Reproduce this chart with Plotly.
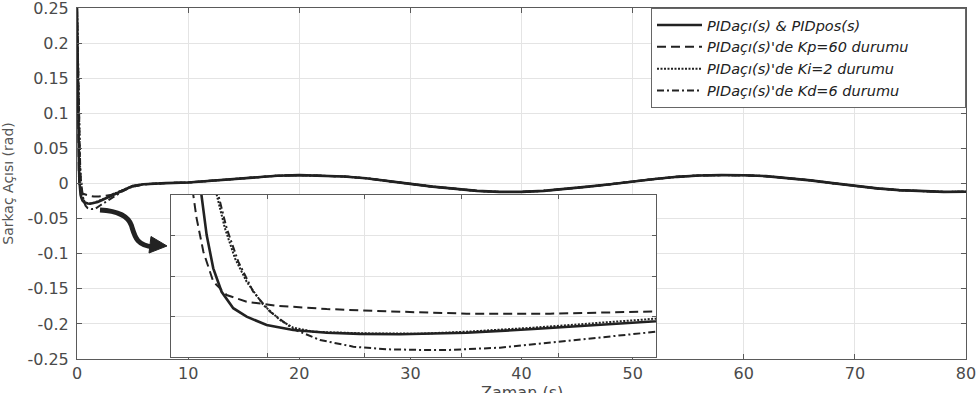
import plotly.graph_objects as go

# ---------------- data ----------------
# early transient (0 .. 2.5 s) for each case
t_pid = [0, 0.05, 0.10, 0.13, 0.158, 0.184, 0.218, 0.261, 0.321, 0.390, 0.493, 0.630, 0.803, 0.974, 1.180, 1.524, 1.868, 2.211, 2.495, 3.0, 3.5, 4.0, 4.5, 5.0, 6.0, 7.0]
y_pid = [0.25, 0.16, 0.09, 0.06, 0.040, 0.0202, 0.0038, -0.0078, -0.0159, -0.0201, -0.0242, -0.0267, -0.0280, -0.0286, -0.0288, -0.0280, -0.0262, -0.0238, -0.0217, -0.0185, -0.0140, -0.0105, -0.0070, -0.0035, -0.0010, 0.0]

t_kp = [0, 0.04, 0.08, 0.115, 0.132, 0.167, 0.218, 0.287, 0.390, 0.545, 0.803, 1.060, 1.284, 1.524, 1.954, 2.298, 2.495, 3.0, 3.5, 4.0, 4.5, 5.0, 6.0, 7.0]
y_kp = [0.25, 0.16, 0.085, 0.040, 0.0286, 0.0120, -0.0028, -0.0094, -0.0127, -0.0147, -0.0163, -0.0173, -0.0179, -0.0186, -0.0186, -0.0181, -0.0178, -0.0165, -0.0135, -0.0105, -0.0075, -0.0045, -0.0013, 0.0]

t_ki = [0, 0.08, 0.16, 0.20, 0.236, 0.278, 0.330, 0.390, 0.476, 0.562, 0.630, 0.734, 0.974, 1.284, 1.524, 1.868, 2.211, 2.495, 3.0, 3.5, 4.0, 4.5, 5.0, 6.0, 7.0]
y_ki = [0.25, 0.17, 0.09, 0.06, 0.040, 0.0236, 0.0087, -0.0028, -0.0143, -0.0217, -0.0255, -0.0275, -0.0283, -0.0285, -0.0275, -0.0255, -0.0231, -0.0209, -0.0180, -0.0135, -0.0100, -0.0068, -0.0034, -0.0010, 0.0]

t_kd = [0, 0.08, 0.16, 0.21, 0.244, 0.287, 0.347, 0.424, 0.510, 0.630, 0.768, 0.940, 1.112, 1.284, 1.438, 1.696, 2.005, 2.298, 2.495, 3.0, 3.5, 4.0, 4.5, 5.0, 6.0, 7.0]
y_kd = [0.25, 0.17, 0.095, 0.06, 0.040, 0.0236, 0.0071, -0.0078, -0.0176, -0.0262, -0.0316, -0.0349, -0.0362, -0.0365, -0.0365, -0.0354, -0.0321, -0.0291, -0.0267, -0.0215, -0.0165, -0.0120, -0.0080, -0.0045, -0.0012, 0.0]

# slow oscillation shared by all cases (8 .. 80 s)
t_late = [8, 10, 12, 14, 16, 18, 20, 22, 24, 26, 28, 30, 32, 34, 36, 38, 40, 42, 44, 46, 48, 50, 52, 54, 56, 58, 60, 62, 64, 66, 68, 70, 72, 74, 76, 78, 80]
y_late = [0.0006, 0.0015, 0.0040, 0.0065, 0.0090, 0.0110, 0.0120, 0.0115, 0.0100, 0.0075, 0.0040, -0.0005, -0.0045, -0.0080, -0.0105, -0.0120, -0.0120, -0.0105, -0.0080, -0.0045, -0.0010, 0.0030, 0.0065, 0.0095, 0.0115, 0.0120, 0.0118, 0.0105, 0.0080, 0.0045, 0.0005, -0.0035, -0.0070, -0.0095, -0.0112, -0.0120, -0.0118]

names = ["PIDaçı(s) & PIDpos(s)", "PIDaçı(s)'de Kp=60 durumu",
         "PIDaçı(s)'de Ki=2 durumu", "PIDaçı(s)'de Kd=6 durumu"]

x_ticks = [0, 10, 20, 30, 40, 50, 60, 70, 80]
y_ticks = [-0.25, -0.2, -0.15, -0.1, -0.05, 0, 0.05, 0.1, 0.15, 0.2, 0.25]
y_ticktext = ["-0.25", "-0.2", "-0.15", "-0.1", "-0.05", "0", "0.05", "0.1", "0.15", "0.2", "0.25"]
x_title = "Zaman (s)"
y_title = "Sarkaç Açısı (rad)"

# ---------------- styling ----------------
INK = "#222222"
styles = [dict(width=2.6, dash="solid"),
          dict(width=2.0, dash="9px,5px"),
          dict(width=2.0, dash="2px,1.5px"),
          dict(width=2.0, dash="7px,3px,2px,3px")]
series = [(t_pid, y_pid), (t_kp, y_kp), (t_ki, y_ki), (t_kd, y_kd)]
PAD = "\u00a0" * 11  # widen the legend box like the reference

fig = go.Figure()
for (tt, yy), nm, st in zip(series, names, styles):
    fig.add_trace(go.Scatter(x=tt + t_late, y=yy + y_late, mode="lines", name=nm + PAD,
                             line=dict(color=INK, width=st["width"], dash=st["dash"]),
                             xaxis="x", yaxis="y"))
for (tt, yy), nm, st in zip(series, names, styles):
    fig.add_trace(go.Scatter(x=tt, y=yy, mode="lines", name=nm, showlegend=False,
                             line=dict(color=INK, width=st["width"], dash=st["dash"]),
                             xaxis="x2", yaxis="y2"))

FONT = "DejaVu Sans"
GRID = "#e4e4e4"
AX = "#5a5a5a"
TXT = "#4a4a4a"

INSET_X = [0, 2.5]
INSET_Y = [-0.04, 0.04]

fig.update_layout(
    width=980, height=393,
    margin=dict(l=77, r=14, t=8, b=34),
    paper_bgcolor="white", plot_bgcolor="white",
    font=dict(family=FONT, size=16, color=TXT),
    xaxis=dict(domain=[0, 1], range=[0, 80], tickvals=x_ticks, showgrid=True, gridcolor=GRID,
               zeroline=False, showline=True, linecolor=AX, linewidth=1, mirror="ticks",
               ticks="inside", ticklen=5, tickcolor=AX, ticklabelstandoff=0,
               ticklabeloverflow="allow", automargin=False,
               tickfont=dict(family=FONT, size=16, color=TXT)),
    yaxis=dict(domain=[0, 1], range=[-0.25, 0.25], tickvals=y_ticks, ticktext=y_ticktext,
               showgrid=True, gridcolor=GRID, zeroline=False, showline=True, linecolor=AX,
               linewidth=1, mirror="ticks", ticks="inside", ticklen=5, tickcolor=AX,
               ticklabelstandoff=4, ticklabeloverflow="allow", automargin=False,
               tickfont=dict(family=FONT, size=16, color=TXT),
               title=dict(text=y_title, font=dict(family=FONT, size=14, color="#555"), standoff=11)),
    xaxis2=dict(domain=[0.1057, 0.6513], anchor="y2", range=INSET_X, dtick=0.5, showgrid=True,
                gridcolor=GRID, zeroline=False, showline=True, linecolor=AX, mirror="ticks",
                ticks="inside", ticklen=4, tickcolor=AX, showticklabels=False, automargin=False),
    yaxis2=dict(domain=[0.0057, 0.4672], anchor="x2", range=INSET_Y, dtick=0.02, showgrid=True,
                gridcolor=GRID, zeroline=False, showline=True, linecolor=AX, mirror="ticks",
                ticks="inside", ticklen=4, tickcolor=AX, showticklabels=False, automargin=False),
    legend=dict(x=1, y=1, xanchor="right", yanchor="top", bgcolor="white",
                bordercolor="#666", borderwidth=1, itemwidth=45,
                font=dict(family=FONT, size=14.5, color=INK, style="italic")),
    showlegend=True,
    annotations=[dict(text=x_title, xref="paper", yref="paper", x=0.5, y=-0.0627,
                      xanchor="center", yanchor="top", showarrow=False,
                      font=dict(family=FONT, size=16, color=TXT))],
)

# opaque white background for the inset (covers main grid)
fig.add_shape(type="rect", xref="x2", yref="y2", x0=INSET_X[0], x1=INSET_X[1],
              y0=INSET_Y[0], y1=INSET_Y[1], fillcolor="white", line=dict(width=0), layer="below")

# curved arrow pointing from the dip to the inset
fig.add_shape(type="path", xref="x", yref="y",
              path="M 2.07,-0.0377 C 3.6,-0.039 4.6,-0.045 4.9,-0.060 S 5.3,-0.088 6.9,-0.0905",
              line=dict(color=INK, width=5), layer="above")
fig.add_shape(type="path", xref="x", yref="y",
              path="M 6.66,-0.0755 L 8.1,-0.089 L 6.48,-0.099 Z",
              fillcolor=INK, line=dict(color=INK, width=1), layer="above")

fig.write_html("out.html")
